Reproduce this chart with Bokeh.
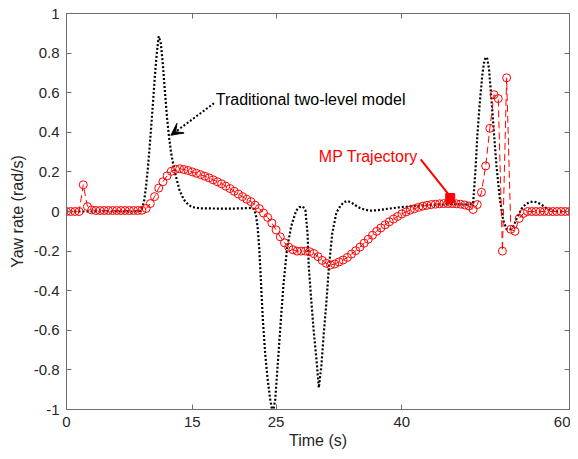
import numpy as np
from bokeh.plotting import figure
from bokeh.models import Range1d, FixedTicker, LinearAxis, Arrow, VeeHead, Label
from bokeh.embed import file_html
from bokeh.resources import INLINE

# ---------------- data ----------------
x_ticks = [0, 15, 25, 40, 60]
x_tick_labels = ["0", "15", "25", "40", "60"]
y_ticks = [-1, -0.8, -0.6, -0.4, -0.2, 0, 0.2, 0.4, 0.6, 0.8, 1]
y_tick_labels = ["-1", "-0.8", "-0.6", "-0.4", "-0.2", "0", "0.2", "0.4", "0.6", "0.8", "1"]

# Traditional two-level model (black dotted)
trad_t = [0, 4, 8, 8.75, 9.0, 9.25, 9.5, 9.75, 10.0, 10.25, 10.5, 10.75, 11.0, 11.25, 11.5,
          11.75, 12.0, 12.25, 12.5, 12.75, 13.0, 13.5, 14.0, 14.5, 15.0, 16, 18, 20, 21, 22,
          22.4, 22.6, 22.8, 23.0, 23.2, 23.4, 23.7, 24.0, 24.3, 24.6, 24.9, 25.2, 25.6, 25.9,
          26.3, 26.8, 27.4, 27.8, 28.2, 28.5, 28.75, 28.9, 29.2, 29.5, 29.8, 30.1, 30.4, 30.7,
          31.0, 31.3, 31.7, 32.2, 32.7, 33.1, 33.5, 34.0, 34.5, 35.0, 35.5, 36.2, 37.0, 38.0,
          39.5, 41.5, 43.5, 46.0, 48.0, 48.5, 48.8, 49.0, 49.3, 49.6, 49.8, 50.0, 50.2, 50.4,
          50.7, 51.0, 51.3, 51.7, 52.1, 52.5, 52.9, 53.3, 53.8, 54.3, 54.8, 55.3, 55.8, 56.3,
          56.8, 57.3, 57.8, 58.5, 60]
trad_yaw = [0.0, 0.0, 0.0, 0.003, 0.015, 0.05, 0.13, 0.24, 0.37, 0.51, 0.66, 0.79, 0.885, 0.85, 0.74,
            0.6, 0.47, 0.37, 0.29, 0.235, 0.185, 0.105, 0.06, 0.035, 0.022, 0.016, 0.015, 0.015, 0.016, 0.018,
            0.012, -0.02, -0.08, -0.19, -0.36, -0.53, -0.72, -0.85, -0.95, -1.02, -0.95, -0.77, -0.53, -0.36,
            -0.19, -0.075, 0.005, 0.022, 0.025, 0.005, -0.11, -0.28, -0.45, -0.61, -0.74, -0.89, -0.78, -0.61,
            -0.46, -0.28, -0.11, -0.005, 0.03, 0.047, 0.053, 0.045, 0.03, 0.018, 0.01, 0.004, 0.006, 0.012,
            0.02, 0.028, 0.033, 0.037, 0.034, 0.04, 0.22, 0.38, 0.55, 0.69, 0.75, 0.78, 0.77, 0.72,
            0.56, 0.39, 0.225, 0.06, -0.045, -0.09, -0.09, -0.075, -0.025, 0.015, 0.038, 0.048, 0.05, 0.043,
            0.03, 0.015, 0.005, 0.0, 0.0]

# MP Trajectory (red circles, sampled every 0.5 s)
mp_t = np.arange(0, 60.5, 0.5)
mp_yaw = [
    0, 0, 0, 0, 0.135, 0.025, 0.008, 0.005, 0.005, 0.005,
    0.005, 0.005, 0.005, 0.005, 0.005, 0.005, 0.005, 0.005, 0.006, 0.015,
    0.04, 0.075, 0.118, 0.15, 0.18, 0.203, 0.213, 0.216, 0.212, 0.207,
    0.2, 0.193, 0.186, 0.178, 0.17, 0.16, 0.15, 0.14, 0.128, 0.116,
    0.102, 0.088, 0.075, 0.062, 0.05, 0.032, 0.015, -0.008, -0.03, -0.058,
    -0.093, -0.128, -0.158, -0.18, -0.193, -0.2, -0.2, -0.2, -0.203, -0.212,
    -0.228, -0.247, -0.262, -0.27, -0.265, -0.255, -0.245, -0.232, -0.215, -0.198,
    -0.18, -0.16, -0.14, -0.12, -0.1, -0.083, -0.067, -0.052, -0.038, -0.025,
    -0.012, -0.002, 0.007, 0.014, 0.021, 0.027, 0.031, 0.035, 0.037, 0.039,
    0.04, 0.04, 0.04, 0.039, 0.037, 0.033, 0.028, 0.01, 0.035, 0.097,
    0.23, 0.42, 0.59, 0.57, -0.2, 0.675, -0.09, -0.1, -0.035, -0.01,
    0, 0, 0, 0, 0, 0, 0, 0, 0, 0,
    0]

# annotations (data coordinates)
trad_label = "Traditional two-level model"
trad_label_pos = (17.8, 0.567)
trad_arrow = (17.6, 0.547, 12.45, 0.385)
mp_label = "MP Trajectory"
mp_label_pos = (30.1, 0.276)
mp_arrow = (42.25, 0.263, 45.6, 0.085)
mp_head = (45.77, 0.068)

# ---------------- styling ----------------
FONT = "Liberation Sans"
AX = "#6e6e6e"
TXT = "#262626"

p = figure(width=570, height=451, x_range=Range1d(0, 60), y_range=Range1d(-1, 1),
           output_backend="svg", toolbar_location=None,
           min_border_left=66, min_border_right=1, min_border_top=13, min_border_bottom=41)
p.background_fill_color = "white"
p.border_fill_color = "white"
p.outline_line_color = AX
p.outline_line_width = 1
p.xgrid.visible = False
p.ygrid.visible = False


def style_axis(ax, ticks, labels, show):
    ax.ticker = FixedTicker(ticks=ticks, minor_ticks=[])
    ax.major_tick_in = 5
    ax.major_tick_out = 0
    ax.minor_tick_line_color = None
    ax.axis_line_color = AX
    ax.major_tick_line_color = AX
    ax.major_label_text_font = FONT
    ax.major_label_text_color = TXT
    if show:
        ax.major_label_overrides = dict(zip(ticks, labels))
        ax.major_label_text_font_size = "15px"
        ax.major_label_standoff = 7
    else:
        ax.major_label_overrides = {t: "" for t in ticks}
        ax.major_label_text_font_size = "1px"
        ax.major_label_standoff = 0


style_axis(p.xaxis[0], x_ticks, x_tick_labels, True)
style_axis(p.yaxis[0], y_ticks, y_tick_labels, True)
p.xaxis[0].axis_label = "Time (s)"
p.yaxis[0].axis_label = "Yaw rate (rad/s)"
for ax in (p.xaxis[0], p.yaxis[0]):
    ax.axis_label_text_font = FONT
    ax.axis_label_text_font_size = "16px"
    ax.axis_label_text_font_style = "normal"
    ax.axis_label_text_color = TXT
p.xaxis[0].axis_label_standoff = 2
p.yaxis[0].axis_label_standoff = 5

top = LinearAxis()
style_axis(top, x_ticks, x_tick_labels, False)
p.add_layout(top, "above")
right = LinearAxis()
style_axis(right, y_ticks, y_tick_labels, False)
p.add_layout(right, "right")

# ---------------- series ----------------
p.line(trad_t, trad_yaw, line_color="black", line_width=2.2, line_dash="2 2", line_cap="butt")
p.line(mp_t, mp_yaw, line_color="red", line_width=1, line_dash="7 4")
p.scatter(mp_t, mp_yaw, marker="circle", size=8, fill_color=None, line_color="red", line_width=1)

# ---------------- annotations ----------------
p.add_layout(Label(x=trad_label_pos[0], y=trad_label_pos[1], text=trad_label,
                   text_font=FONT, text_font_size="16px", text_color="black",
                   text_baseline="alphabetic"))
p.add_layout(Arrow(end=VeeHead(size=12, fill_color="black", line_color="black", line_width=1),
                   x_start=trad_arrow[0], y_start=trad_arrow[1],
                   x_end=trad_arrow[2], y_end=trad_arrow[3],
                   line_color="black", line_width=2, line_dash="2 2"))
p.add_layout(Label(x=mp_label_pos[0], y=mp_label_pos[1], text=mp_label,
                   text_font=FONT, text_font_size="16px", text_color="red",
                   text_baseline="alphabetic"))
p.add_layout(Arrow(end=None, x_start=mp_arrow[0], y_start=mp_arrow[1],
                   x_end=mp_arrow[2], y_end=mp_arrow[3], line_color="red", line_width=2))
p.scatter([mp_head[0]], [mp_head[1]], marker="square", size=9, color="red")

open("out.html", "w").write(file_html(p, INLINE))
